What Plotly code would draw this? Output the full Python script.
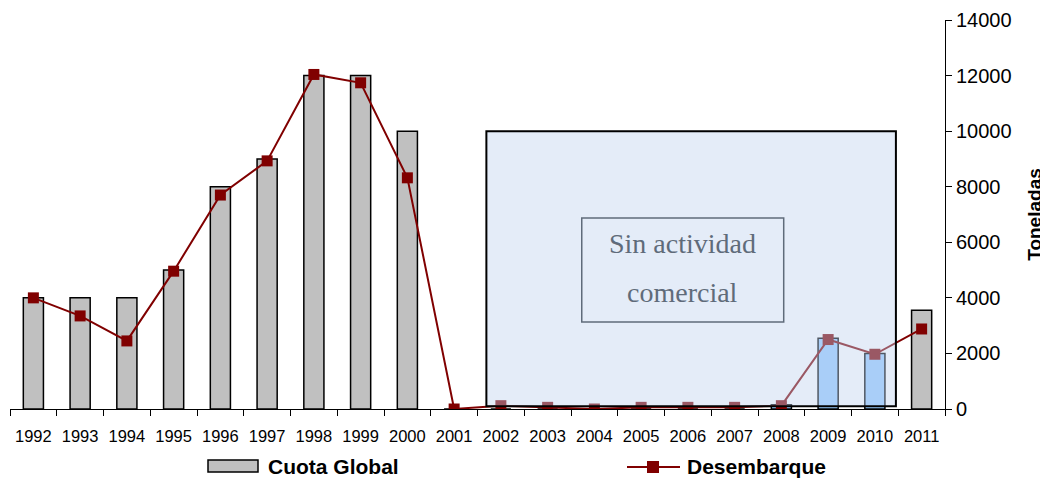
import plotly.graph_objects as go

years = [str(y) for y in range(1992, 2012)]
cuota = [4000, 4000, 4000, 5000, 8000, 9000, 12000, 12000, 10000, 0,
         0, 0, 0, 0, 0, 0, 150, 2550, 2000, 3550]
desembarque = [4000, 3350, 2450, 4960, 7700, 8930, 12040, 11740, 8320, 0,
               120, 60, 0, 60, 60, 60, 120, 2500, 1970, 2880]
bar_colors = ["#C0C0C0"] * 16 + ["#99CCFF", "#99CCFF", "#99CCFF", "#C0C0C0"]

OFF = 8  # default page body margin
W, H = 1048 - OFF, 478 - OFF
L, R, T, B = 10, 945, 20, 409  # plot area in window pixels

def px(x):
    return (x - L) / (R - L)

def py(y):
    return (B - y) / (B - T)

fig = go.Figure()
fig.add_trace(go.Bar(x=years, y=cuota, name="Cuota Global", width=0.43,
                     marker=dict(color=bar_colors, line=dict(color="black", width=1.5)),
                     showlegend=False))
fig.add_trace(go.Scatter(x=years, y=desembarque, name="Desembarque", mode="lines+markers",
                         line=dict(color="#800000", width=2),
                         marker=dict(symbol="square", size=11, color="#800000"),
                         showlegend=False))

# overlay box "Sin actividad comercial"
fig.add_shape(type="rect", xref="x", yref="y", x0=9.69, x1=18.45, y0=100, y1=10000,
              fillcolor="rgba(190,210,238,0.42)", line=dict(color="black", width=2), layer="above")
fig.add_shape(type="rect", xref="x", yref="y", x0=11.73, x1=16.05, y0=3130, y1=6870,
              fillcolor="rgba(0,0,0,0)", line=dict(color="#5F6B7A", width=1.5), layer="above")
fig.add_annotation(x=13.89, y=5950, xref="x", yref="y", text="Sin actividad", showarrow=False,
                   font=dict(family="Liberation Serif", size=28, color="#5F6B7A"))
fig.add_annotation(x=13.89, y=4200, xref="x", yref="y", text="comercial", showarrow=False,
                   font=dict(family="Liberation Serif", size=28, color="#5F6B7A"))

# legend drawn manually
fig.add_shape(type="rect", xref="paper", yref="paper", x0=px(208), x1=px(258), y0=py(472), y1=py(460),
              fillcolor="#C0C0C0", line=dict(color="black", width=1.5))
fig.add_annotation(x=px(266), y=py(466), xref="paper", yref="paper", text="<b>Cuota Global</b>",
                   showarrow=False, xanchor="left", yanchor="middle",
                   font=dict(family="Liberation Sans", size=21, color="black"))
fig.add_shape(type="line", xref="paper", yref="paper", x0=px(627), x1=px(680), y0=py(467), y1=py(467),
              line=dict(color="#800000", width=2))
fig.add_shape(type="rect", xref="paper", yref="paper", x0=px(647), x1=px(659), y0=py(473), y1=py(461),
              fillcolor="#800000", line=dict(color="#800000", width=0))
fig.add_annotation(x=px(685), y=py(466), xref="paper", yref="paper", text="<b>Desembarque</b>",
                   showarrow=False, xanchor="left", yanchor="middle",
                   font=dict(family="Liberation Sans", size=21, color="black"))

fig.update_layout(
    width=W, height=H,
    margin=dict(l=L - OFF, r=1048 - R, t=T - OFF, b=478 - B),
    paper_bgcolor="white", plot_bgcolor="white",
    font=dict(family="Liberation Sans", color="black"),
    xaxis=dict(type="category", tickson="boundaries", ticks="outside", ticklen=6,
               tickcolor="black", showline=True, linecolor="black", linewidth=1,
               showgrid=False, tickfont=dict(size=16.5, family="Liberation Sans"),
               ticklabelstandoff=12, range=[-0.5, 19.5]),
    yaxis=dict(side="right", range=[0, 14000], dtick=2000, ticks="outside", ticklen=6,
               tickformat="d",
               tickcolor="black", showline=True, linecolor="black", linewidth=1,
               showgrid=False, zeroline=False, tickfont=dict(size=20, family="Liberation Sans"),
               title=dict(text="<b>Toneladas</b>", font=dict(size=19, family="Liberation Sans"),
                          standoff=17)),
)

fig.write_html("out.html")
